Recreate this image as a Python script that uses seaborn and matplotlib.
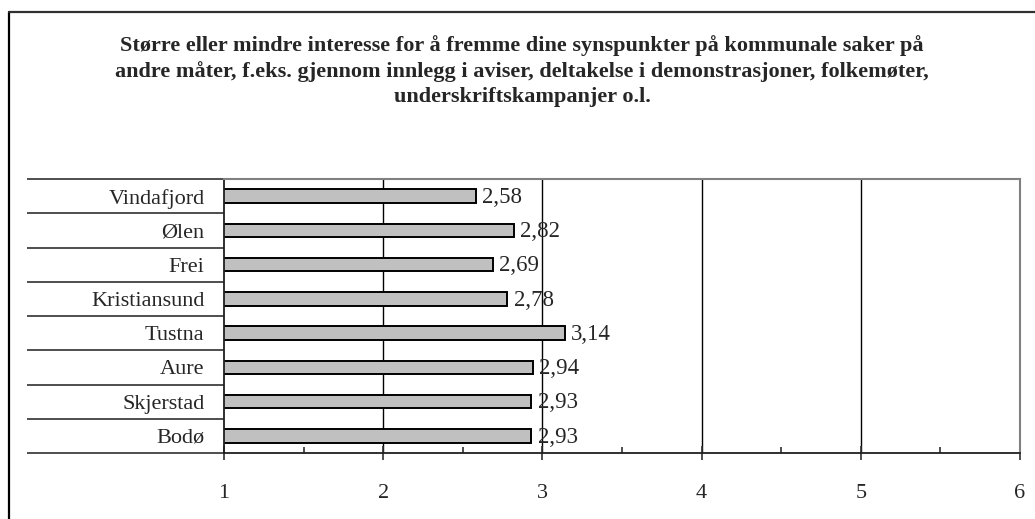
import numpy as np
import pandas as pd
import matplotlib
matplotlib.use('Agg')
import matplotlib.pyplot as plt
from matplotlib.lines import Line2D
from matplotlib.ticker import FixedLocator, MultipleLocator
import seaborn as sns

# data
kommuner = ['Vindafjord', 'Ølen', 'Frei', 'Kristiansund', 'Tustna', 'Aure', 'Skjerstad', 'Bodø']
snitt = [2.58, 2.82, 2.69, 2.78, 3.14, 2.94, 2.93, 2.93]
x_ticks = [1, 2, 3, 4, 5, 6]
title = ('Større eller mindre interesse for å fremme dine synspunkter på kommunale saker på\n'
         'andre måter, f.eks. gjennom innlegg i aviser, deltakelse i demonstrasjoner, folkemøter,\n'
         'underskriftskampanjer o.l.')

df = pd.DataFrame({'kommune': kommuner, 'snitt': snitt})

sns.set_style('white')
plt.rcParams['font.family'] = ['Liberation Serif', 'DejaVu Serif']

fig = plt.figure(figsize=(10.35, 5.19), dpi=100)
ax = fig.add_axes([224 / 1035, 1 - 453 / 519, (1020 - 224) / 1035, (453 - 179) / 519])

sns.barplot(data=df, x='snitt', y='kommune', orient='h', color='#c0c0c0',
            edgecolor='black', linewidth=1.4, width=0.4, saturation=1, ax=ax)

ax.set_xlim(x_ticks[0], x_ticks[-1])
ax.set_ylim(len(kommuner) - 0.5, -0.5)
ax.set_xticks(x_ticks)
ax.set_xticklabels([str(t) for t in x_ticks], fontsize=16)
ax.xaxis.set_minor_locator(MultipleLocator(0.5))
ax.set_xlabel('')
ax.set_ylabel('')

# vertical gridlines
for t in x_ticks[1:-1]:
    ax.axvline(t, color='black', lw=1.0, zorder=0)

# value labels
for i, v in enumerate(snitt):
    ax.text(v + 0.04, i + 0.04, f'{v:.2f}'.replace('.', ','), va='center', ha='left', fontsize=16.5)

# category separators drawn as long minor ticks on the y axis
ax.yaxis.set_minor_locator(FixedLocator(np.arange(-0.5, len(kommuner), 1.0)))
ax.tick_params(axis='y', which='major', length=0, pad=14, labelsize=16)
ax.tick_params(axis='y', which='minor', left=True, length=141.8, width=1.2, color='#303030', direction='out')
ax.tick_params(axis='x', which='major', bottom=True, length=10, width=1.2, color='#303030',
               direction='inout', pad=17)
ax.tick_params(axis='x', which='minor', bottom=True, length=4, width=1.2, color='#303030', direction='in')

for side in ['left', 'bottom']:
    ax.spines[side].set_color('#202020')
    ax.spines[side].set_linewidth(1.3)
for side in ['top', 'right']:
    ax.spines[side].set_visible(True)
    ax.spines[side].set_color('#808080')
    ax.spines[side].set_linewidth(1.5)

fig.text(522 / 1035, 1 - 35 / 519, title, ha='center', va='top', fontsize=16,
         fontweight='bold', linespacing=1.34)

# outer chart frame (left and top edges visible)
fig.add_artist(Line2D([9 / 1035, 9 / 1035], [0, 1 - 12 / 519], color='black', lw=1.6, transform=fig.transFigure))
fig.add_artist(Line2D([9 / 1035, 1], [1 - 12 / 519, 1 - 12 / 519], color='#303030', lw=1.6, transform=fig.transFigure))

fig.savefig('out.png', dpi=100)
